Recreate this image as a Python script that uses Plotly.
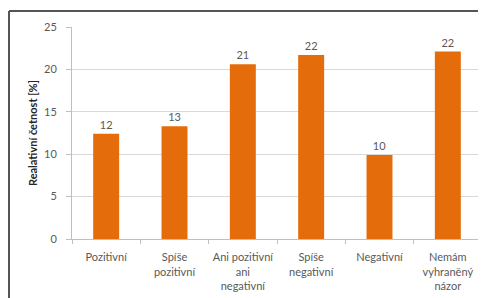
import plotly.graph_objects as go

categories = ["Pozitivní", "Spíše<br>pozitivní", "Ani pozitivní<br>ani<br>negativní",
              "Spíše<br>negativní", "Negativní", "Nemám<br>vyhraněný<br>názor"]
values = [12.4, 13.3, 20.6, 21.7, 9.9, 22.1]
labels = ["12", "13", "21", "22", "10", "22"]
y_ticks = [0, 5, 10, 15, 20, 25]

# page has an 8px body margin, so the figure is drawn 8px in from the top-left
W, H = 478, 290
L, R, T, B = 64, 4, 19, 59
pw, ph = W - L - R, H - T - B

font = "Lato, Liberation Sans, sans-serif"
fig = go.Figure(go.Bar(
    x=categories, y=values, text=labels, textposition="outside",
    textfont=dict(size=11, color="#595959", family=font),
    marker=dict(color="#E46C0A", line=dict(width=0)),
    width=0.38, cliponaxis=False,
))

fig.update_layout(
    width=W, height=H, margin=dict(l=L, r=R, t=T, b=B, autoexpand=False),
    paper_bgcolor="white", plot_bgcolor="white", showlegend=False,
    font=dict(family=font, size=11, color="#595959"),
    xaxis=dict(tickson="boundaries", ticks="outside", ticklen=4, tickcolor="#BFBFBF",
               showline=True, linecolor="#BFBFBF", linewidth=1, showgrid=False,
               tickfont=dict(size=11, color="#595959"), tickangle=0, automargin=False,
               ticklabelstandoff=8),
    yaxis=dict(range=[0, 25], tickvals=y_ticks, ticks="outside", ticklen=5,
               tickcolor="#BFBFBF", showline=True, linecolor="#BFBFBF", linewidth=1,
               showgrid=True, gridcolor="#D9D9D9", gridwidth=1, zeroline=False,
               tickfont=dict(size=11, color="#595959"), ticklabelstandoff=7,
               automargin=False,
               title=dict(text="<b>Realativní četnost [%]</b>", standoff=4,
                          font=dict(size=11, color="#262626"))),
    bargap=0.62,
)

# outer chart border (left and top visible)
x_left = (1 - L) / pw
y_top = (H - B - 3) / ph
fig.add_shape(type="line", xref="paper", yref="paper", x0=x_left, x1=(W + 5 - L) / pw,
              y0=y_top, y1=y_top, line=dict(color="#555555", width=2))
fig.add_shape(type="line", xref="paper", yref="paper", x0=x_left, x1=x_left,
              y0=y_top, y1=-(B + 5) / ph, line=dict(color="#555555", width=2))

fig.write_html("out.html")
